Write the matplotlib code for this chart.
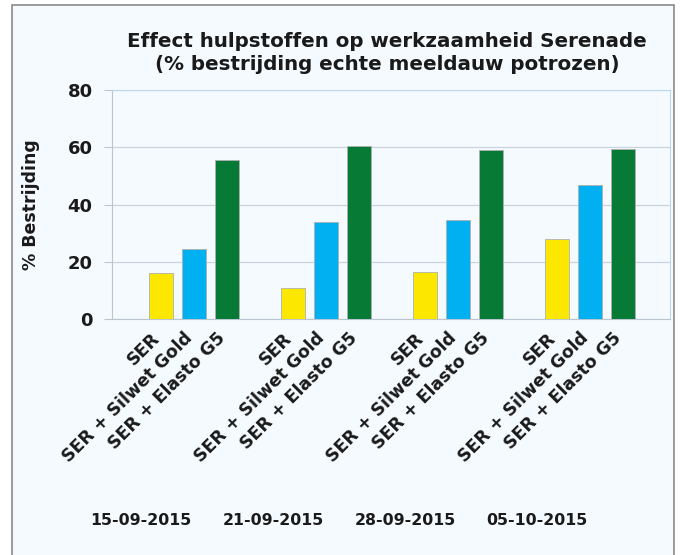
import numpy as np
import matplotlib
import matplotlib.pyplot as plt
from matplotlib.patches import Rectangle

matplotlib.use("Agg")

# === Data ===
dates = ["15-09-2015", "21-09-2015", "28-09-2015", "05-10-2015"]
treatments = ["SER", "SER + Silwet Gold", "SER + Elasto G5"]
ser = [16.1, 10.7, 16.4, 27.9]
ser_silwet = [24.4, 34.0, 34.7, 46.9]
ser_elasto = [55.4, 60.5, 58.9, 59.3]
yticks = [0, 20, 40, 60, 80]

colors = ["#FBE700", "#00B0F0", "#077A35"]
bg = "#F5FAFE"

plt.rcParams["font.family"] = ["DejaVu Sans"]
plt.rcParams["font.weight"] = "bold"

fig = plt.figure(figsize=(6.8, 5.55), dpi=100)
fig.patch.set_facecolor("white")

# outer frame of the chart
frame = Rectangle((12 / 680, -0.01), 662 / 680, 1 - 5 / 555 + 0.01,
                  transform=fig.transFigure, facecolor=bg,
                  edgecolor="#8A8A8A", linewidth=1.2, zorder=-10)
fig.patches.append(frame)

ax = fig.add_axes([112 / 680, 1 - 319 / 555, 558 / 680, 229 / 555])
ax.set_facecolor(bg)

x = np.arange(len(dates))
width = 0.186
offset = 0.25
series = [ser, ser_silwet, ser_elasto]
for k, vals in enumerate(series):
    ax.bar(x + (k - 1) * offset, vals, width=width, color=colors[k],
           edgecolor="#B0B0B0", linewidth=0.6, zorder=3)

ax.set_ylim(0, 80)
ax.set_xlim(-0.62, 3.606)
ax.set_yticks(yticks)
ax.set_yticklabels([str(v) for v in yticks], fontsize=13, fontweight="bold",
                   color="#1A1A1A")
ax.yaxis.grid(True, color="#C9D3DD", linewidth=0.9, zorder=0)
ax.tick_params(axis="y", length=6, color="#B9C6D2", pad=8)
ax.tick_params(axis="x", length=0)
ax.set_xticks([])
for side in ["top", "right"]:
    ax.spines[side].set_color("#BDD7EE")
for side in ["left", "bottom"]:
    ax.spines[side].set_color("#B9C6D2")

ax.set_ylabel("% Bestrijding", fontsize=12.5, fontweight="bold", labelpad=20,
              color="#1A1A1A")

# rotated treatment labels under each bar
for i in x:
    for k, name in enumerate(treatments):
        ax.annotate(name, xy=(i + (k - 1) * offset, 0), xycoords="data",
                    xytext=(-3, -12), textcoords="offset points",
                    rotation=45, rotation_mode="anchor", ha="right", va="center",
                    fontsize=12.5, fontweight="bold", color="#1A1A1A",
                    annotation_clip=False)
    ax.annotate(dates[i], xy=(i - 0.4, 0), xycoords="data",
                xytext=(0, -145), textcoords="offset points",
                ha="center", va="center", fontsize=11.3, fontweight="bold",
                color="#1A1A1A", annotation_clip=False)

fig.text(387 / 680, 1 - 53 / 555,
         "Effect hulpstoffen op werkzaamheid Serenade\n(% bestrijding echte meeldauw potrozen)",
         ha="center", va="center", fontsize=14.3, fontweight="bold",
         linespacing=1.25, color="#1A1A1A")

fig.savefig("out.png", dpi=100, facecolor="white")
